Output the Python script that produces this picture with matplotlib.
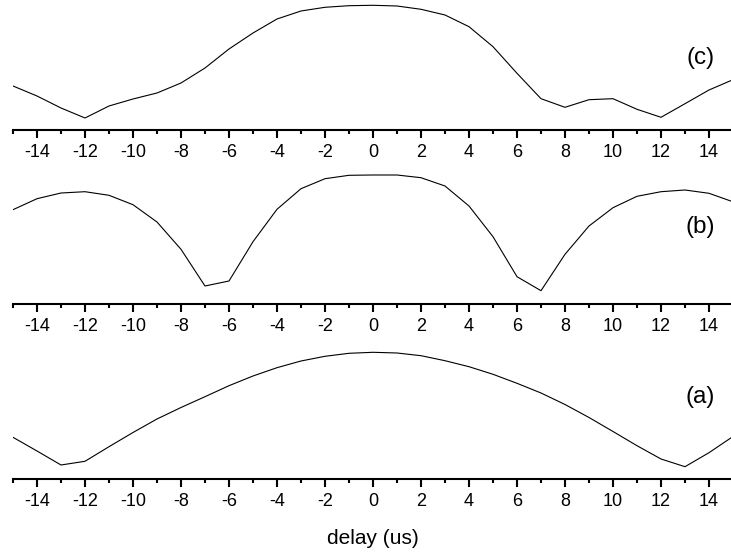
import numpy as np
import matplotlib
matplotlib.use("Agg")
import matplotlib.pyplot as plt
from matplotlib.ticker import MultipleLocator

plt.rcParams['font.family'] = ['Liberation Sans', 'DejaVu Sans']
plt.rcParams['axes.unicode_minus'] = False

delay = list(range(-15, 16))

# signal heights (arbitrary units)
trace_a = [41.7, 28, 14, 17.7, 32.3, 46.5, 60, 71.5, 82.3, 93.3, 103, 111.3, 118, 122.7, 125.7, 126.7,
           126, 123.3, 118.3, 112.3, 104.7, 95.7, 86, 74.5, 61.5, 47.5, 33.3, 20, 12.3, 26.3, 42.5]
trace_b = [94.6, 105.6, 111.3, 112.6, 109, 99.6, 82.3, 55, 18.3, 23.3, 62.6, 95, 115.6, 125.6, 129, 129.3,
           129.3, 126.6, 118.3, 98.3, 67.6, 27.6, 13.6, 50, 78.3, 96.6, 108, 112.6, 114.3, 111, 102.5]
trace_c = [44, 34, 22, 12, 24, 31, 37, 47, 62, 81, 97, 111, 119, 122.7, 124.3, 124.7,
           124, 120.7, 115, 103.3, 83.3, 56.7, 31.3, 22.7, 30.3, 31.3, 20.7, 12.7, 26.3, 40, 50.3]

panels = [("(c)", trace_c, 0.7662, 72), ("(b)", trace_b, 0.4527, 77), ("(a)", trace_a, 0.1385, 82)]

W, H = 731, 556
fig = plt.figure(figsize=(W / 100, H / 100), dpi=100)

for label, vals, bottom, ylab in panels:
    ax = fig.add_axes([13 / W, bottom, 720 / W, 130 / H])
    ax.plot(delay, vals, color="black", linewidth=0.8)
    ax.set_xlim(-15, 15)
    ax.set_ylim(0, 130)
    for side in ["top", "right", "left"]:
        ax.spines[side].set_visible(False)
    ax.spines["bottom"].set_linewidth(1.5)
    ax.set_yticks([])
    ax.xaxis.set_major_locator(MultipleLocator(2))
    ax.xaxis.set_minor_locator(MultipleLocator(1))
    ax.set_xticks(range(-14, 15, 2))
    ax.tick_params(axis="x", which="major", length=6, width=1.5, pad=4, labelsize=13)
    ax.tick_params(axis="x", which="minor", length=3, width=1.5)
    ax.text(14.25, ylab, label, ha="right", va="center", fontsize=17.5)
    ax.patch.set_visible(False)
    if label == "(a)":
        ax.set_xlabel("delay (us)", fontsize=15, labelpad=14)

fig.savefig("out.png", dpi=100)
